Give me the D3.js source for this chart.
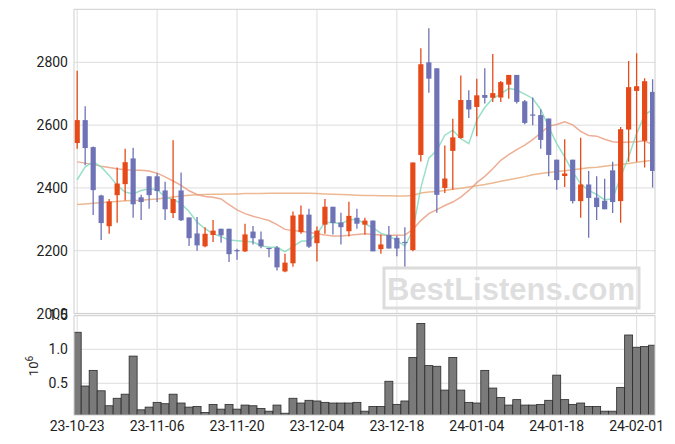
<!DOCTYPE html>
<html><head><meta charset="utf-8">
<script src="https://cdn.jsdelivr.net/npm/d3@7"></script>
<style>html,body{margin:0;padding:0;background:#fff;}svg{display:block;}</style>
</head><body><svg id="c" width="675" height="444"></svg>
<script>
const dates = ["23-10-23","23-11-06","23-11-20","23-12-04","23-12-18","24-01-04","24-01-18","24-02-01"];
const tickIdx = [0,10,20,30,40,50,60,70];
const opens = [2543,2616,2530,2376,2278,2377,2412,2494,2370,2437,2437,2392,2320,2392,2306,2255,2214,2250,2270,2270,2202,2198,2261,2236,2209,2210,2134,2160,2259,2315,2224,2283,2340,2290,2262,2305,2283,2296,2205,2250,2241,2228,2202,2505,2800,2781,2400,2518,2559,2680,2658,2696,2687,2688,2729,2760,2676,2634,2632,2621,2490,2438,2490,2358,2411,2369,2359,2456,2358,2586,2709,2550,2706];
const highs = [2773,2660,2532,2378,2365,2465,2525,2528,2378,2437,2447,2420,2552,2449,2306,2307,2275,2298,2270,2270,2206,2286,2279,2261,2209,2215,2190,2325,2344,2334,2277,2365,2340,2321,2356,2334,2305,2296,2252,2279,2248,2275,2481,2845,2909,2781,2535,2620,2758,2711,2748,2781,2827,2741,2760,2760,2680,2688,2650,2621,2490,2555,2490,2560,2454,2437,2429,2483,2594,2804,2829,2749,2746];
const lows = [2525,2472,2314,2234,2254,2289,2360,2305,2298,2334,2355,2298,2304,2295,2215,2200,2211,2228,2225,2164,2171,2196,2220,2208,2179,2137,2131,2149,2254,2209,2166,2254,2252,2220,2245,2270,2252,2198,2190,2207,2182,2145,2198,2484,2703,2321,2384,2394,2557,2623,2565,2669,2674,2674,2684,2669,2603,2600,2525,2437,2394,2403,2350,2305,2241,2298,2332,2320,2289,2483,2483,2465,2401];
const closes = [2616,2527,2393,2288,2357,2414,2482,2348,2355,2377,2390,2332,2365,2297,2240,2217,2254,2264,2249,2189,2200,2252,2240,2214,2207,2147,2162,2312,2315,2213,2264,2340,2288,2275,2311,2286,2296,2198,2220,2207,2207,2226,2481,2794,2748,2378,2430,2561,2680,2650,2695,2687,2702,2737,2760,2674,2607,2633,2553,2505,2425,2446,2358,2411,2368,2339,2332,2355,2587,2721,2724,2740,2454];
const volumes = [1.25,0.46,0.69,0.39,0.17,0.28,0.34,0.90,0.11,0.15,0.22,0.20,0.34,0.21,0.15,0.16,0.07,0.19,0.12,0.19,0.12,0.18,0.17,0.13,0.09,0.18,0.06,0.28,0.21,0.25,0.24,0.22,0.21,0.21,0.21,0.22,0.09,0.16,0.16,0.53,0.19,0.24,0.88,1.38,0.76,0.75,0.40,0.88,0.40,0.22,0.21,0.69,0.43,0.29,0.18,0.26,0.18,0.18,0.19,0.25,0.62,0.26,0.19,0.21,0.16,0.16,0.09,0.09,0.44,1.21,1.03,1.04,1.06];
const ma5 = [2426,2467,2483,2467,2440,2408,2387,2381,2392,2397,2395,2371,2364,2350,2325,2291,2270,2254,2245,2234,2232,2230,2228,2216,2211,2211,2197,2213,2230,2232,2254,2290,2290,2286,2298,2300,2286,2273,2256,2247,2232,2215,2264,2400,2495,2520,2568,2584,2557,2541,2616,2656,2685,2699,2717,2712,2699,2685,2650,2594,2541,2499,2451,2413,2392,2379,2362,2365,2435,2499,2573,2632,2650];
const ma20 = [2483,2479,2475,2469,2465,2461,2458,2456,2456,2454,2447,2435,2422,2408,2391,2379,2373,2370,2365,2347,2330,2318,2310,2303,2296,2283,2268,2264,2262,2259,2254,2250,2247,2247,2249,2252,2254,2252,2250,2249,2249,2250,2268,2296,2318,2331,2344,2355,2371,2392,2417,2437,2461,2488,2506,2522,2536,2554,2575,2597,2602,2611,2601,2580,2567,2565,2555,2547,2545,2546,2547,2550,2538];
const ma60 = [2347,2349,2351,2353,2355,2357,2359,2360,2361,2363,2365,2368,2371,2374,2377,2378,2379,2380,2380,2381,2381,2382,2382,2382,2383,2383,2383,2383,2383,2383,2382,2381,2380,2379,2378,2377,2376,2376,2375,2375,2374,2374,2376,2384,2387,2389,2392,2396,2399,2403,2407,2411,2416,2421,2426,2431,2436,2442,2446,2449,2452,2455,2458,2461,2464,2466,2469,2472,2475,2478,2482,2485,2488];
const priceTicks = [2000,2200,2400,2600,2800];
const volTicks = [0.5,1.0,1.5];

const svg = d3.select("#c");
const L = 74, R = 655;
const mainTop = 9.3, mainBot = 313.4, volTop = 315.7, volBot = 415;
const UP = "#e64a19", DOWN = "#6e73b6", GRID = "#dddddd", SPINE = "#cfcfcf";
const FONT = "Roboto, 'DejaVu Sans', sans-serif";

const x = d3.scaleLinear().domain([-0.4, 72.3]).range([L, R]);
const y = d3.scaleLinear().domain([2000, 2969]).range([313.5, mainTop]);
const yv = d3.scaleLinear().domain([0.034, 1.52]).range([volBot, 313.9]);

svg.append("defs").html(`<clipPath id="cm"><rect x="${L}" y="${mainTop}" width="${R-L}" height="${mainBot-mainTop}"/></clipPath><clipPath id="cv"><rect x="${L}" y="${volTop}" width="${R-L}" height="${volBot-volTop}"/></clipPath>`);

const n = opens.length;
const idx = d3.range(n);

// main panel grid
const gm = svg.append("g");
gm.selectAll("line.h").data(priceTicks).join("line")
  .attr("x1", L).attr("x2", R).attr("y1", d => y(d)).attr("y2", d => y(d))
  .attr("stroke", GRID).attr("stroke-width", 1);
gm.selectAll("line.v").data(tickIdx).join("line")
  .attr("x1", d => x(d)).attr("x2", d => x(d)).attr("y1", mainTop).attr("y2", mainBot)
  .attr("stroke", GRID).attr("stroke-width", 1);
// volume grid
const gv = svg.append("g");
gv.selectAll("line.h").data(volTicks).join("line")
  .attr("x1", L).attr("x2", R).attr("y1", d => yv(d)).attr("y2", d => yv(d))
  .attr("stroke", GRID).attr("stroke-width", 1);
gv.selectAll("line.v").data(tickIdx).join("line")
  .attr("x1", d => x(d)).attr("x2", d => x(d)).attr("y1", volTop).attr("y2", volBot)
  .attr("stroke", GRID).attr("stroke-width", 1);

// moving averages
const pm = svg.append("g").attr("clip-path", "url(#cm)");
const line = arr => d3.line().x((d,i) => x(i)).y(d => y(d))(arr);
pm.append("path").attr("d", line(ma60)).attr("fill","none").attr("stroke","#e9a877").attr("stroke-opacity",0.8).attr("stroke-width",1.5);
pm.append("path").attr("d", line(ma20)).attr("fill","none").attr("stroke","#e99a7c").attr("stroke-opacity",0.8).attr("stroke-width",1.5);
pm.append("path").attr("d", line(ma5)).attr("fill","none").attr("stroke","#86dbbd").attr("stroke-opacity",0.85).attr("stroke-width",1.5);

// candles
const bw = 5.2;
const cg = pm.selectAll("g.c").data(idx).join("g");
cg.append("line")
  .attr("x1", i => x(i)).attr("x2", i => x(i))
  .attr("y1", i => y(highs[i])).attr("y2", i => y(lows[i]))
  .attr("stroke", i => closes[i] >= opens[i] ? UP : DOWN).attr("stroke-width", 1.3);
cg.append("rect")
  .attr("x", i => x(i) - bw/2).attr("width", bw)
  .attr("y", i => y(Math.max(opens[i], closes[i])))
  .attr("height", i => Math.max(1.2, Math.abs(y(opens[i]) - y(closes[i]))))
  .attr("fill", i => closes[i] >= opens[i] ? UP : DOWN);

// volume bars
const vg = svg.append("g").attr("clip-path", "url(#cv)");
vg.selectAll("rect").data(idx).join("rect")
  .attr("x", i => x(i - 0.5)).attr("width", x(1) - x(0))
  .attr("y", i => yv(volumes[i])).attr("height", i => volBot - yv(volumes[i]))
  .attr("fill", "#7a7a7a").attr("stroke", "#2a2a2a").attr("stroke-width", 0.8);

// spines
svg.append("rect").attr("x", L).attr("y", mainTop).attr("width", R-L).attr("height", mainBot-mainTop)
  .attr("fill","none").attr("stroke",SPINE).attr("stroke-width",1);
svg.append("rect").attr("x", L).attr("y", volTop).attr("width", R-L).attr("height", volBot-volTop)
  .attr("fill","none").attr("stroke",SPINE).attr("stroke-width",1);

// axis labels
const tx = svg.append("g").attr("font-family", FONT).attr("font-size", 14).attr("fill", "#222");
tx.selectAll("text.p").data(priceTicks).join("text")
  .attr("x", 68).attr("y", d => y(d)).attr("dy", "0.36em").attr("text-anchor","end").text(d => d);
tx.selectAll("text.v").data(volTicks).join("text")
  .attr("x", 68).attr("y", d => yv(d)).attr("dy", "0.36em").attr("text-anchor","end").text(d => d.toFixed(1));
tx.selectAll("text.x").data(tickIdx).join("text")
  .attr("x", d => x(d)).attr("y", 431).attr("text-anchor","middle").text((d,i) => dates[i]);
const ylab = tx.append("text").attr("transform","translate(38,366) rotate(-90)").attr("text-anchor","middle").attr("font-size",13);
ylab.append("tspan").text("10");
ylab.append("tspan").attr("dy","-0.5em").attr("font-size",10).text("6");

// watermark
const wm = svg.append("g");
wm.append("rect").attr("x",384).attr("y",268).attr("width",255).attr("height",40)
  .attr("fill","#ffffff").attr("fill-opacity",0.35).attr("stroke","#dcdcdc").attr("stroke-width",3);
wm.append("text").attr("x",511).attr("y",300).attr("text-anchor","middle")
  .attr("font-family","'Liberation Sans', Arial, sans-serif").attr("font-weight","bold").attr("font-size",31)
  .attr("fill","#d9d9d9").attr("fill-opacity",0.85).text("BestListens.com");
</script></body></html>
